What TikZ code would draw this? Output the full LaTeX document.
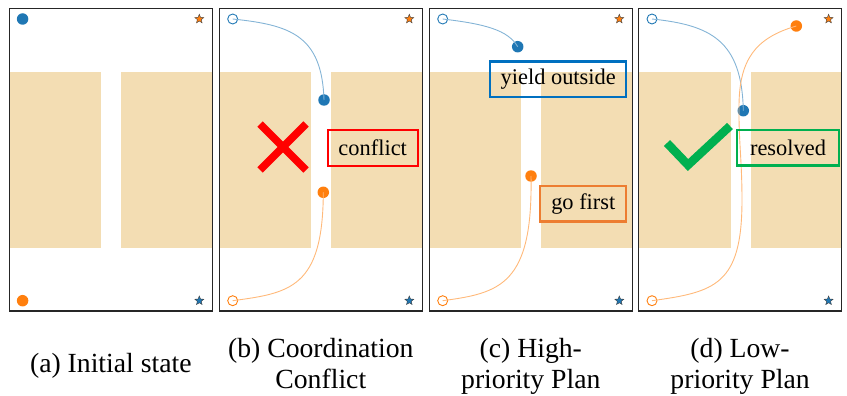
\documentclass[tikz,border=0pt]{standalone}
\usepackage{fontspec}
\setmainfont{Liberation Serif}
\usetikzlibrary{shapes.geometric}

\definecolor{tabblue}{HTML}{1F77B4}
\definecolor{taborange}{HTML}{FF7F0E}
\definecolor{wheatfill}{HTML}{F3DDB3}
\definecolor{boxblue}{HTML}{0070C0}
\definecolor{boxorange}{HTML}{ED7D31}
\definecolor{okgreen}{HTML}{00B050}

\begin{document}
\begin{tikzpicture}[x=1pt, y=-1pt,
  panel/.style={draw=black!85, line width=1.1pt},
  block/.style={fill=wheatfill},
  goal/.style={star, star points=5, star point ratio=2.3, minimum size=9.5pt,
    inner sep=0pt, draw=black!75, line width=0.4pt},
  agent/.style={circle, minimum size=11.5pt, inner sep=0pt},
  start/.style={circle, minimum size=10pt, inner sep=0pt, line width=0.9pt},
  track/.style={line width=0.9pt},
  tag/.style={draw, line width=2.3pt, inner sep=0pt, minimum height=35.5pt,
    font=\fontsize{22.4}{26}\selectfont},
  caption/.style={align=center, inner sep=0pt, font=\fontsize{27.7}{31}\selectfont}]

\useasboundingbox (0,0) rectangle (847,396);

% Obstacles, frame and goals of each panel
\foreach \p/\x in {a/9.3, b/219.3, c/429.3, d/638.6} {
  \fill[block] (\x,72) rectangle ++(92,176);
  \fill[block] (\x+112,72) rectangle ++(91,176);
  \draw[panel] (\x,8.3) rectangle ++(203,302.7);
  \node[goal, fill=taborange] (og-\p) at (\x+190,19) {};
  \node[goal, fill=tabblue] (bg-\p) at (\x+190,300.7) {};
}

% (a) agents at their start
\node[agent, fill=tabblue] (bs-a) at (22.6,19) {};
\node[agent, fill=taborange] (os-a) at (22.6,300.7) {};

% Start positions in the other panels
\foreach \p/\x in {b/232.7, c/442.7, d/652} {
  \node[start, draw=tabblue] (bs-\p) at (\x,19) {};
  \node[start, draw=taborange] (os-\p) at (\x,300.7) {};
}

% (b) both agents enter the gap
\node[agent, fill=tabblue] (bd-b) at (324,100) {};
\node[agent, fill=taborange] (od-b) at (323.3,192.3) {};
\draw[track, tabblue!55] (bs-b.center) .. controls (290,25) and (322,35) .. (bd-b.center);
\draw[track, taborange!55] (os-b.center) .. controls (290,293) and (323,288) .. (od-b.center);
\draw[red, line width=7.5pt] (260,124) -- (306,170) (260,170) -- (306,124);
\node[tag, draw=red, minimum width=90pt] (conflict) at (372.7,147.9) {conflict};

% (c) blue waits, orange goes
\node[agent, fill=tabblue] (bd-c) at (517.7,46.7) {};
\node[agent, fill=taborange] (od-c) at (531,176) {};
\draw[track, tabblue!55] (bs-c.center) .. controls (485,24) and (508,30) .. (bd-c.center);
\draw[track, taborange!55] (os-c.center) .. controls (500,293) and (533,285) .. (od-c.center);
\node[tag, draw=boxblue, minimum width=136pt] (yield) at (558.2,79.3) {yield outside};
\node[tag, draw=boxorange, minimum width=86pt] (first) at (583.3,203.8) {go first};

% (d) orange passes, blue follows
\node[agent, fill=tabblue] (bd-d) at (743.3,110.7) {};
\node[agent, fill=taborange] (od-d) at (796.3,26) {};
\draw[track, tabblue!55] (bs-d.center) .. controls (710,25) and (742,40) .. (bd-d.center);
\draw[track, taborange!55] (os-d.center) .. controls (715,292) and (742,285) .. (742,200)
  .. controls (742,160) and (738.5,140) .. (739,105)
  .. controls (739.5,60) and (755,38) .. (od-d.center);
\draw[okgreen, line width=8.5pt] (667,143) -- (688,165) -- (730,126);
\node[tag, draw=okgreen, minimum width=102pt] (resolved) at (788,147.8) {resolved};

% Captions (base = baseline of the last line)
\node[caption, anchor=base] (cap-a) at (110.8,372) {(a) Initial state};
\node[caption, anchor=base] (cap-b) at (320.8,388) {(b) Coordination\\Conflict};
\node[caption, anchor=base] (cap-c) at (530.8,388) {(c) High-\\priority Plan};
\node[caption, anchor=base] (cap-d) at (740.1,388) {(d) Low-\\priority Plan};

\end{tikzpicture}
\end{document}
